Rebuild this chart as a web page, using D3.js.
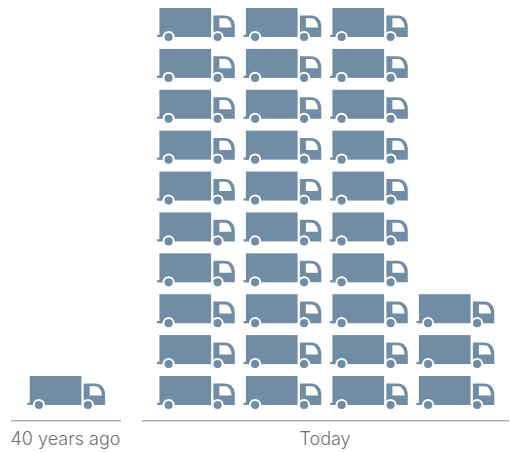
<!DOCTYPE html>
<html>
<head>
<meta charset="utf-8">
<style>html,body{margin:0;padding:0;background:#fff}svg{display:block}</style>
<script src="https://cdn.jsdelivr.net/npm/d3@7"></script>
</head>
<body>
<script>
const categories = ["40 years ago", "Today"];
const trucksPerColumn = [[1], [10, 10, 10, 3]];

const width = 510, height = 452;
const svg = d3.select("body").append("svg").attr("width", width).attr("height", height);

const truckColor = "#718da5";
const baselineY = 420.7;

const colScale = d3.scaleLinear().domain([0, 3]).range([159.4, 418.9]);
const rowScale = d3.scaleLinear().domain([0, 9]).range([376, 8]);

const groupX = [d => 29.7, d => colScale(d)];
const groupLines = [[11, 121], [142, 509]];

function drawTruck(g) {
  g.append("rect").attr("x", 0).attr("y", 0).attr("width", 51.7).attr("height", 29).attr("fill", truckColor);
  g.append("rect").attr("x", -2.4).attr("y", 26.8).attr("width", 6).attr("height", 2.2).attr("fill", truckColor);
  g.append("path").attr("fill", truckColor)
    .attr("d", "M54,7.4H65C71.5,7.4 75.4,12 75.4,19V29H54Z");
  g.append("path").attr("fill", "#fff")
    .attr("d", "M60,10.2H65.3C69,10.2 71.6,13.5 72.2,19.4H60Z");
  [9.2, 58.2].forEach(cx => {
    g.append("circle").attr("cx", cx).attr("cy", 29).attr("r", 6.1).attr("fill", "#fff");
    g.append("circle").attr("cx", cx).attr("cy", 29).attr("r", 4.1).attr("fill", truckColor);
  });
}

categories.forEach((cat, i) => {
  const group = svg.append("g").attr("class", "group");
  trucksPerColumn[i].forEach((count, c) => {
    d3.range(count).forEach(r => {
      group.append("g")
        .attr("transform", `translate(${groupX[i](c)},${rowScale(r)})`)
        .call(drawTruck);
    });
  });
  const [x0, x1] = groupLines[i];
  group.append("line").attr("x1", x0).attr("x2", x1)
    .attr("y1", baselineY).attr("y2", baselineY)
    .attr("stroke", "#b0b0a8").attr("stroke-width", 1.4);
  group.append("text").attr("x", (x0 + x1) / 2 - 0.5).attr("y", 445)
    .attr("text-anchor", "middle")
    .attr("font-family", "Inter, sans-serif")
    .attr("font-weight", 300).attr("font-size", 18).attr("fill", "#707070")
    .text(cat);
});
</script>
</body>
</html>
